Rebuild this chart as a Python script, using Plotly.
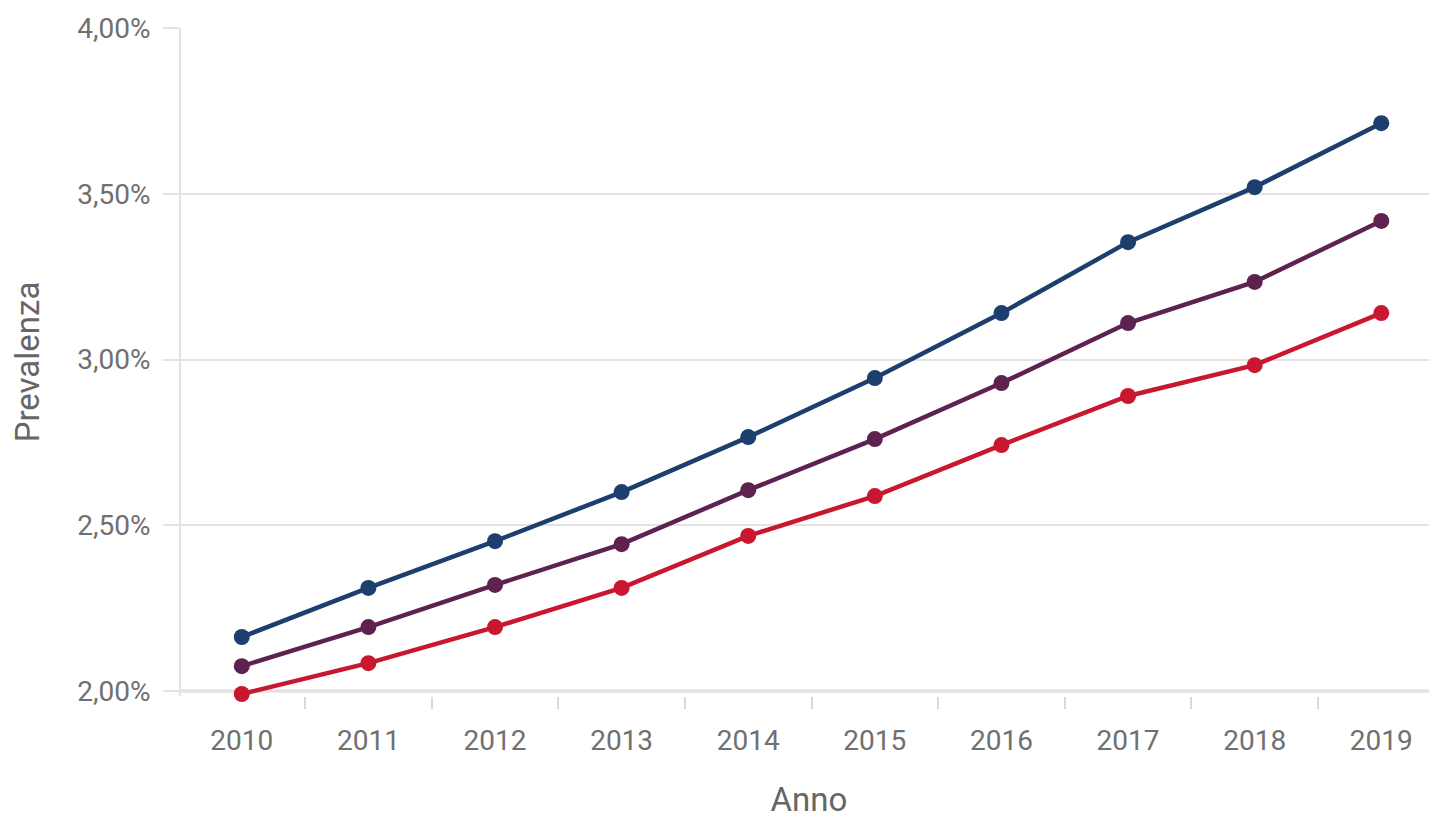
"""
Prevalenza per anno - tre serie
"""
import plotly.graph_objects as go

# dati
anni = ["2010", "2011", "2012", "2013", "2014", "2015", "2016", "2017", "2018", "2019"]
serie_blu = [2.163, 2.311, 2.452, 2.600, 2.766, 2.944, 3.140, 3.354, 3.520, 3.713]
serie_viola = [2.075, 2.193, 2.320, 2.443, 2.606, 2.760, 2.929, 3.110, 3.234, 3.418]
serie_rossa = [1.991, 2.084, 2.193, 2.311, 2.468, 2.588, 2.742, 2.890, 2.983, 3.140]
colori = ["#1c3f6e", "#5e2250", "#c8172e"]
y_ticks = [0.02, 0.025, 0.03, 0.035, 0.04]

fig = go.Figure()
for valori, colore in zip([serie_blu, serie_viola, serie_rossa], colori):
    fig.add_trace(go.Scatter(
        x=anni,
        y=[v / 100 for v in valori],
        mode="lines+markers",
        line=dict(color=colore, width=4.5),
        marker=dict(color=colore, size=16),
        cliponaxis=False,
        showlegend=False,
    ))

# linea di base dell'asse x sul 2,00%
fig.add_shape(type="line", xref="paper", yref="y", x0=0, x1=1, y0=y_ticks[0], y1=y_ticks[0],
              line=dict(color="#d6d6d6", width=3), layer="below")

# la pagina html ha 8px di margine nel body
fig.update_layout(
    width=1429,
    height=811,
    margin=dict(l=173, r=0, t=20, b=123),
    plot_bgcolor="white",
    paper_bgcolor="white",
    separators=",.",
    font=dict(family="Roboto", color="#707070"),
    xaxis=dict(
        type="category",
        range=[-0.48, 9.44],
        tickson="boundaries",
        ticks="outside",
        ticklen=12,
        tickcolor="#d9d9d9",
        tickwidth=2,
        showgrid=False,
        showline=False,
        automargin=False,
        ticklabelstandoff=25,
        tickfont=dict(size=28, color="#707070"),
        title=dict(text="Anno", font=dict(size=33, color="#666666"), standoff=47),
    ),
    yaxis=dict(
        range=[0.01985, 0.04],
        tickvals=y_ticks,
        tickformat=".2%",
        ticks="outside",
        ticklen=16,
        tickcolor="#e3e3e3",
        tickwidth=2,
        showgrid=True,
        gridcolor="#e3e3e3",
        gridwidth=2,
        zeroline=False,
        showline=True,
        linecolor="#e3e3e3",
        linewidth=2,
        automargin=False,
        ticklabelstandoff=7,
        tickfont=dict(size=28, color="#707070"),
        title=dict(text="Prevalenza", font=dict(size=33, color="#666666"), standoff=28),
    ),
)

fig.write_html("out.html")
